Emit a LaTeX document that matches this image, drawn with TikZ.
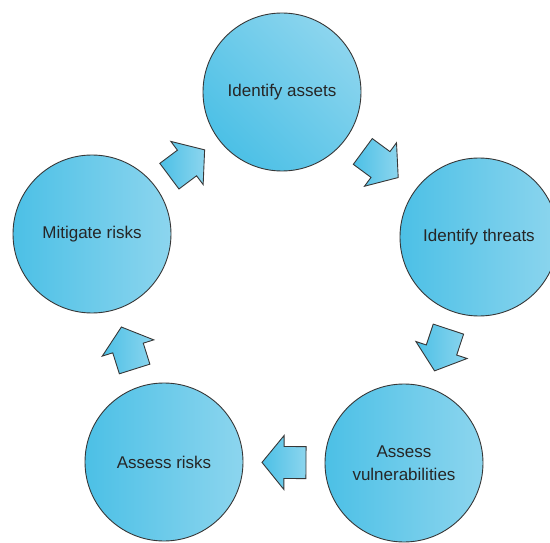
\documentclass[tikz,border=0pt]{standalone}
\usepackage{fontspec}
\setmainfont{Liberation Sans}
\usetikzlibrary{calc}
\definecolor{cdark}{RGB}{76,192,230}
\definecolor{clight}{RGB}{140,213,238}
\definecolor{cline}{RGB}{55,55,55}
\tikzset{
  circ/.style={circle, draw=cline, line width=0.9pt, minimum size=158pt, inner sep=0pt,
    left color=cdark, right color=clight, align=center,
    font=\fontsize{17}{23}\selectfont, text=black!85},
  barrow/.pic={
    \path[draw=cline, line width=0.9pt, left color=cdark, right color=clight, line join=miter]
      (-22,-16) -- (0,-16) -- (0,-27) -- (22,0) -- (0,27) -- (0,16) -- (-22,16) -- cycle;
  }
}
\newcommand{\blockarrow}[2]{%
  \path let \p1=($(#2)-(#1)$), \n1={atan2(\y1,\x1)} in
    ($(#1)!0.5!(#2)$) pic[rotate=\n1] {barrow};}
\begin{document}
\begin{tikzpicture}[x=1pt,y=-1pt]
\useasboundingbox (0,0) rectangle (550,543);
\node[circ, shading angle=135] (ia) at (282,92) {Identify assets};
\node[circ] (it) at (479,237) {Identify threats};
\node[circ] (av) at (404,463) {Assess\\vulnerabilities};
\node[circ] (ar) at (164,462) {Assess risks};
\node[circ] (mr) at (92,234) {Mitigate risks};
\blockarrow{mr}{ia}
\blockarrow{ia}{it}
\blockarrow{it}{av}
\blockarrow{av}{ar}
\blockarrow{ar}{mr}
\end{tikzpicture}
\end{document}
